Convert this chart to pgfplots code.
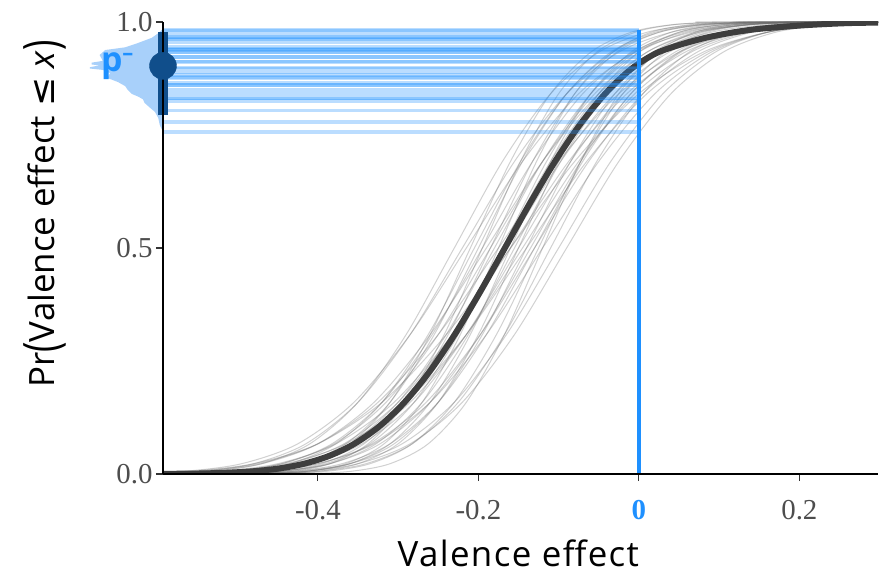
\documentclass[border=0pt]{standalone}
\usepackage{fontspec}
\setmainfont{Liberation Serif}
\newfontfamily\labfont{Open Sans}
\newfontfamily\xlabfont[LetterSpace=4]{Open Sans}
\newfontfamily\symfont{DejaVu Sans}
\usepackage{pgfplots}
\usepackage{pgfplotstable}
\pgfplotsset{compat=1.18}
\definecolor{dodger}{RGB}{30,144,255}
\definecolor{navyfour}{RGB}{16,78,139}
\definecolor{dens}{RGB}{168,208,250}
\definecolor{curve}{RGB}{62,62,62}
\definecolor{ticktext}{RGB}{77,77,77}

\pgfplotsset{base/.style={scale only axis, width=715bp, height=452bp,
  xmin=-0.593, xmax=0.298, ymin=0, ymax=1}}

% each row: one posterior draw of the CDF (x positions at fixed probabilities p)
\pgfplotstableread{
name v1 v2 v3 v4 v5 v6 v7 v8 v9 v10 v11 v12 v13 v14 v15 v16 v17
p 0 0.0002 0.0013 0.0062 0.0228 0.0668 0.1587 0.3085 0.5 0.6915 0.8413 0.9332 0.9772 0.9938 0.9987 0.9998 1
c1 -1 -0.585 -0.53 -0.475 -0.42 -0.365 -0.31 -0.255 -0.2 -0.145 -0.09 -0.035 0.02 0.075 0.13 0.185 1
c2 -1 -0.6 -0.54 -0.48 -0.42 -0.36 -0.3 -0.24 -0.18 -0.12 -0.06 0 0.06 0.12 0.18 0.24 1
c3 -1 -0.605 -0.54 -0.475 -0.41 -0.345 -0.28 -0.215 -0.15 -0.085 -0.02 0.045 0.11 0.175 0.24 0.305 1
c4 -1 -0.55 -0.49 -0.43 -0.37 -0.31 -0.25 -0.19 -0.13 -0.07 -0.01 0.05 0.11 0.17 0.23 0.29 1
c5 -1 -0.675 -0.61 -0.545 -0.48 -0.415 -0.35 -0.285 -0.22 -0.155 -0.09 -0.025 0.04 0.105 0.17 0.235 1
c6 -1 -0.51 -0.46 -0.41 -0.36 -0.31 -0.26 -0.21 -0.16 -0.11 -0.06 -0.01 0.04 0.09 0.14 0.19 1
c7 -1 -0.61 -0.54 -0.47 -0.4 -0.33 -0.26 -0.19 -0.12 -0.05 0.02 0.09 0.16 0.23 0.3 0.37 1
c8 -1 -0.68 -0.61 -0.54 -0.47 -0.4 -0.33 -0.26 -0.19 -0.12 -0.05 0.02 0.09 0.16 0.23 0.3 1
c9 -1 -0.555 -0.5 -0.445 -0.39 -0.335 -0.28 -0.225 -0.17 -0.115 -0.06 -0.005 0.05 0.105 0.16 0.215 1
c10 -1 -0.525 -0.47 -0.415 -0.36 -0.305 -0.25 -0.195 -0.14 -0.085 -0.03 0.025 0.08 0.135 0.19 0.245 1
c11 -1 -0.56 -0.51 -0.46 -0.41 -0.36 -0.31 -0.26 -0.21 -0.16 -0.11 -0.06 -0.01 0.04 0.09 0.14 1
c12 -1 -0.555 -0.49 -0.425 -0.36 -0.295 -0.23 -0.165 -0.1 -0.035 0.03 0.095 0.16 0.225 0.29 0.355 1
c13 -1 -0.7 -0.625 -0.55 -0.475 -0.4 -0.325 -0.25 -0.175 -0.1 -0.025 0.05 0.125 0.2 0.275 0.35 1
c14 -1 -0.5575 -0.5 -0.4425 -0.385 -0.3275 -0.27 -0.2125 -0.155 -0.0975 -0.04 0.0175 0.075 0.1325 0.19 0.2475 1
c15 -1 -0.5525 -0.5 -0.4475 -0.395 -0.3425 -0.29 -0.2375 -0.185 -0.1325 -0.08 -0.0275 0.025 0.0775 0.13 0.1825 1
c16 -1 -0.635 -0.565 -0.495 -0.425 -0.355 -0.285 -0.215 -0.145 -0.075 -0.005 0.065 0.135 0.205 0.275 0.345 1
c17 -1 -0.6325 -0.57 -0.5075 -0.445 -0.3825 -0.32 -0.2575 -0.195 -0.1325 -0.07 -0.0075 0.055 0.1175 0.18 0.2425 1
c18 -1 -0.4925 -0.44 -0.3875 -0.335 -0.2825 -0.23 -0.1775 -0.125 -0.0725 -0.02 0.0325 0.085 0.1375 0.19 0.2425 1
c19 -1 -0.6375 -0.57 -0.5025 -0.435 -0.3675 -0.3 -0.2325 -0.165 -0.0975 -0.03 0.0375 0.105 0.1725 0.24 0.3075 1
c20 -1 -0.65 -0.59 -0.53 -0.47 -0.41 -0.35 -0.29 -0.23 -0.17 -0.11 -0.05 0.01 0.07 0.13 0.19 1
c21 -1 -0.5125 -0.455 -0.3975 -0.34 -0.2825 -0.225 -0.1675 -0.11 -0.0525 0.005 0.0625 0.12 0.1775 0.235 0.2925 1
c22 -1 -0.72 -0.64 -0.56 -0.48 -0.4 -0.32 -0.24 -0.16 -0.08 0 0.08 0.16 0.24 0.32 0.4 1
c23 -1 -0.6075 -0.55 -0.4925 -0.435 -0.3775 -0.32 -0.2625 -0.205 -0.1475 -0.09 -0.0325 0.025 0.0825 0.14 0.1975 1
c24 -1 -0.5725 -0.51 -0.4475 -0.385 -0.3225 -0.26 -0.1975 -0.135 -0.0725 -0.01 0.0525 0.115 0.1775 0.24 0.3025 1
c25 -1 -0.5075 -0.46 -0.4125 -0.365 -0.3175 -0.27 -0.2225 -0.175 -0.1275 -0.08 -0.0325 0.015 0.0625 0.11 0.1575 1
c26 -1 -0.545 -0.48 -0.415 -0.35 -0.285 -0.22 -0.155 -0.09 -0.025 0.04 0.105 0.17 0.235 0.3 0.365 1
c27 -1 -0.5 -0.45 -0.4 -0.35 -0.3 -0.25 -0.2 -0.15 -0.1 -0.05 0 0.05 0.1 0.15 0.2 1
c28 -1 -0.64 -0.575 -0.51 -0.445 -0.38 -0.315 -0.25 -0.185 -0.12 -0.055 0.01 0.075 0.14 0.205 0.27 1
c29 -1 -0.665 -0.59 -0.515 -0.44 -0.365 -0.29 -0.215 -0.14 -0.065 0.01 0.085 0.16 0.235 0.31 0.385 1
c30 -1 -0.59 -0.53 -0.47 -0.41 -0.35 -0.29 -0.23 -0.17 -0.11 -0.05 0.01 0.07 0.13 0.19 0.25 1
c31 -1 -0.705 -0.635 -0.565 -0.495 -0.425 -0.355 -0.285 -0.215 -0.145 -0.075 -0.005 0.065 0.135 0.205 0.275 1
c32 -1 -0.4525 -0.405 -0.3575 -0.31 -0.2625 -0.215 -0.1675 -0.12 -0.0725 -0.025 0.0225 0.07 0.1175 0.165 0.2125 1
c33 -1 -0.6675 -0.595 -0.5225 -0.45 -0.3775 -0.305 -0.2325 -0.16 -0.0875 -0.015 0.0575 0.13 0.2025 0.275 0.3475 1
c34 -1 -0.5275 -0.48 -0.4325 -0.385 -0.3375 -0.29 -0.2425 -0.195 -0.1475 -0.1 -0.0525 -0.005 0.0425 0.09 0.1375 1
c35 -1 -0.6025 -0.535 -0.4675 -0.4 -0.3325 -0.265 -0.1975 -0.13 -0.0625 0.005 0.0725 0.14 0.2075 0.275 0.3425 1
}\rawdraws
\pgfplotstabletranspose[colnames from=name]{\draws}{\rawdraws}

\begin{document}
\begin{tikzpicture}
% layer 1: density of p- (outside the panel)
\begin{axis}[base, hide axis, clip=false]
\addplot[fill=dens, draw=none] coordinates {
(-0.593,0.985) (-0.599,0.975) (-0.607,0.965) (-0.625,0.953) (-0.640,0.944)
(-0.665,0.938) (-0.672,0.927) (-0.668,0.914) (-0.682,0.910) (-0.682,0.906)
(-0.672,0.904) (-0.684,0.900) (-0.684,0.897) (-0.668,0.894) (-0.659,0.887)
(-0.662,0.876) (-0.649,0.867) (-0.640,0.858) (-0.637,0.850) (-0.632,0.841)
(-0.624,0.835) (-0.618,0.829) (-0.616,0.821) (-0.609,0.810) (-0.603,0.801)
(-0.599,0.788) (-0.597,0.772) (-0.593,0.757)} -- cycle;
\end{axis}
% layer 2: CDF draws, mean CDF, p- lines
\begin{axis}[base, hide axis]
\pgfplotsinvokeforeach{1,...,35}{
  \addplot[smooth, draw=black!60, draw opacity=0.3, line width=1bp] table[x=c#1, y=p]{\draws};
}
\addplot[smooth, draw=curve, line width=6bp] coordinates {
(-0.65,0) (-0.6045,0.0002) (-0.5733,0.0006) (-0.542,0.0013) (-0.5108,0.0030)
(-0.4795,0.0062) (-0.4483,0.0122) (-0.417,0.0228) (-0.3858,0.0401) (-0.3545,0.0668)
(-0.3233,0.1056) (-0.292,0.1587) (-0.2608,0.2266) (-0.2295,0.3085) (-0.1983,0.4013)
(-0.167,0.5) (-0.1358,0.5987) (-0.1045,0.6915) (-0.0733,0.7734) (-0.042,0.8413)
(-0.0108,0.8944) (0.0205,0.9300) (0.0518,0.9500) (0.083,0.9650) (0.1143,0.9760)
(0.1455,0.9840) (0.1768,0.9890) (0.208,0.9930) (0.2393,0.9960) (0.2705,0.9980) (0.32,0.9990)};
\pgfplotsinvokeforeach{0.966,0.933,0.876,0.861,0.955,0.945,0.804,0.913,0.939,0.899,0.982,0.779,0.878,0.911,0.961,0.850,0.941,0.883,0.889,0.972,0.831,0.841,0.963,0.860,0.967,0.756,0.933,0.923,0.825,0.922,0.938,0.897,0.865,0.980,0.832}{
  \addplot[draw=dodger, draw opacity=0.3, line width=3.6bp] coordinates {(-0.593,#1) (0,#1)};
}
\addplot[draw=dodger, line width=4bp] coordinates {(0,0) (0,0.982)};
\end{axis}
% layer 3: axes, interval and point
\begin{axis}[base, clip=false, axis on top,
  axis lines=left, axis line style={-, line width=1.6bp, black},
  tick align=outside, major tick length=7bp,
  tick style={line width=1.2bp, black!80},
  xtick={-0.4,-0.2,0,0.2},
  xticklabels={-0.4,-0.2,{\bfseries\color{dodger}0},0.2},
  ytick={0,0.5,1}, yticklabels={0.0,0.5,1.0},
  tick label style={font=\fontsize{29}{30}\selectfont, text=ticktext},
  xticklabel style={yshift=-16bp},
  yticklabel style={xshift=0bp},
  xlabel={\xlabfont Valence effect},
  ylabel={\labfont Pr\raisebox{-0.2ex}{\scalebox{1}[1.4]{(}}Valence effect {\symfont ≤} \textit{x}\raisebox{-0.2ex}{\scalebox{1}[1.4]{)}}},
  xlabel style={font=\fontsize{35}{36}\selectfont, at={(axis description cs:0.497,-0.176)}, anchor=center, inner sep=0pt},
  ylabel style={font=\fontsize{35}{36}\selectfont, at={(axis description cs:-0.165,0.575)}, anchor=center},
]
\addplot[draw=navyfour, line width=10bp] coordinates {(-0.593,0.794) (-0.593,0.978)};
\addplot[only marks, mark=*, mark size=13.5bp, color=navyfour] coordinates {(-0.593,0.903)};
\node[anchor=center, text=dodger, font=\labfont\bfseries\fontsize{34}{34}\selectfont] at (axis cs:-0.650,0.902) {p\raisebox{0.6ex}{\fontsize{22}{22}\selectfont –}};
\end{axis}
\pgfresetboundingbox
\path[use as bounding box] (-163bp,-101bp) rectangle (723bp,474bp);
\end{tikzpicture}
\end{document}
